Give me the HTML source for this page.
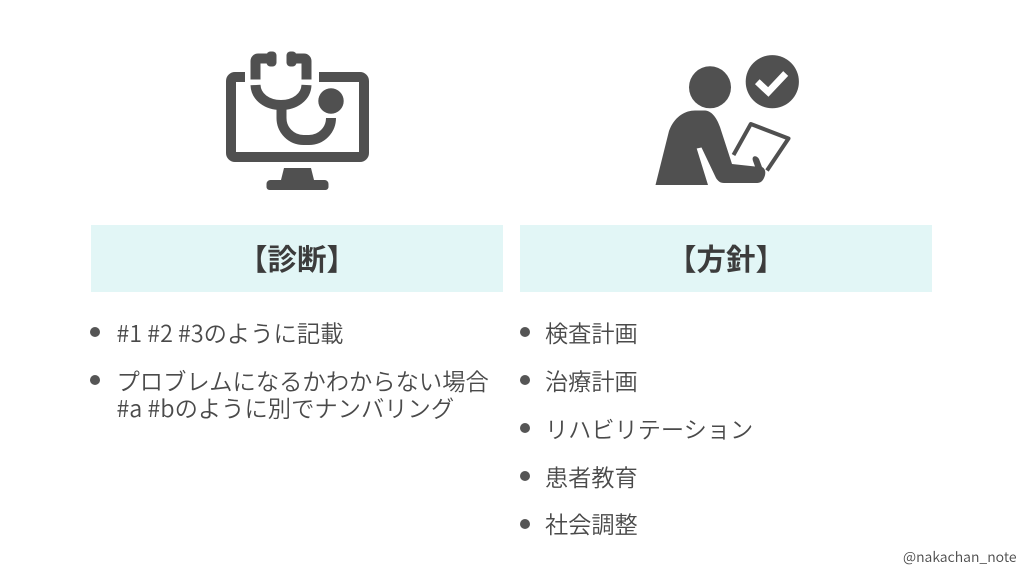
<!DOCTYPE html>
<html lang="ja"><head><meta charset="utf-8">
<style>
html,body{margin:0;padding:0;background:#fff}
#s{position:relative;width:1024px;height:576px;overflow:hidden;background:#fff;font-family:"Noto Sans CJK JP","Liberation Sans",sans-serif;color:#4a4a4a}
.h{position:absolute;top:225px;height:67px;width:412px;background:#e2f6f6;text-align:center;font-size:29.500px;line-height:67px;font-weight:700;color:#3c3c3c}
.t{position:absolute;font-size:23.2px;line-height:27px;white-space:nowrap;font-weight:350}
.l{font-size:23.300px}
.d{position:absolute;width:10px;height:10px;border-radius:50%;background:#555}
</style></head><body><div id="s">
<svg width="1024" height="576" style="position:absolute;left:0;top:0">
<g fill="none" stroke="#505050" stroke-width="10">
<path d="M245 77H235a4 4 0 0 0-4 4V153a4 4 0 0 0 4 4H360a4 4 0 0 0 4-4V81a4 4 0 0 0-4-4H319"/>
<path d="M271 58.500H258a2.500 2.500 0 0 0-2.500 2.500V79.500M292 58.500H304a2.500 2.500 0 0 1 2.500 2.500V79.500"/>
<path d="M255.500 85C256 97 267 105 281 105S306 97 306.500 85"/>
<path d="M281.500 105V118a22 22 0 0 0 22 22H309a22 22 0 0 0 22-22"/>
</g>
<g fill="#505050">
<rect x="266.500" y="51.500" width="10" height="15" rx="4"/><rect x="286.500" y="51.500" width="10" height="15" rx="4"/>
<circle cx="331" cy="101" r="12.700"/>
<path d="M284 168H311L314 180H324.500a4 4 0 0 1 4 4V187a3 3 0 0 1-3 3H269.500a3 3 0 0 1-3-3V184a4 4 0 0 1 4-4H281Z"/>
<circle cx="710" cy="87.300" r="21"/><circle cx="772.300" cy="81.700" r="26.600"/>
<path d="M655.500 185L669 131C674 117 685 110.500 695 110.500H705C711 111 716 116 720 127L732 164L755 166.500L753 161C751 155 757 155 759 159L762 167C766 169 766 174 764 178C762 182 760 183 756 183H724C720 183 718 181 716 178L701.500 147.500L696.700 148.500L708 185Z"/>
</g>
<path d="M757.300 81.700L768.300 92L785.700 73.500" fill="none" stroke="#fff" stroke-width="6.800"/>
<path d="M733.500 155L750.800 124L788.500 138.500L767 170.500" fill="none" stroke="#505050" stroke-width="4" stroke-linejoin="round"/>
</svg>
<div class="h" style="left:91px">【診断】</div>
<div class="h" style="left:520px">【方針】</div>
<div class="d" style="left:90px;top:327px"></div>
<div class="d" style="left:90px;top:375px"></div>
<div class="t l" style="left:116.500px;top:319px">#1 #2 #3のように記載</div>
<div class="t l" style="left:116.500px;top:367px">プロブレムになるかわからない場合<br>#a #bのように別でナンバリング</div>
<div class="d" style="left:520px;top:327px"></div>
<div class="d" style="left:520px;top:375px"></div>
<div class="d" style="left:520px;top:423px"></div>
<div class="d" style="left:520px;top:471px"></div>
<div class="d" style="left:520px;top:519px"></div>
<div class="t" style="left:545px;top:319px">検査計画</div>
<div class="t" style="left:545px;top:367px">治療計画</div>
<div class="t" style="left:545px;top:415px">リハビリテーション</div>
<div class="t" style="left:545px;top:463px">患者教育</div>
<div class="t" style="left:545px;top:510px">社会調整</div>
<div style="position:absolute;left:903px;top:546px;font-size:14px;line-height:22px;white-space:nowrap;font-weight:350">@nakachan_note</div>
</div></body></html>
